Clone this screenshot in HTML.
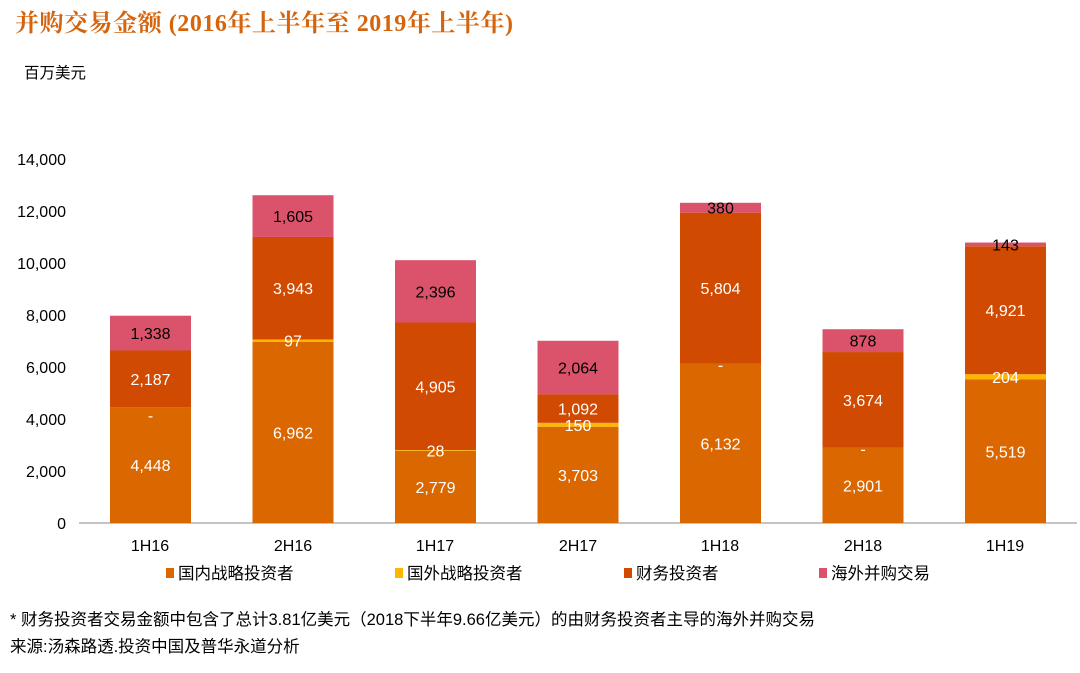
<!DOCTYPE html>
<html><head><meta charset="utf-8"><style>
body{margin:0;background:#fff;}
text{font-family:"Liberation Sans","Noto Sans CJK SC",sans-serif;}
</style></head><body>
<svg width="1080" height="668" xmlns="http://www.w3.org/2000/svg">
<text x="15" y="31" font-size="24" font-weight="bold" fill="#D5640C" textLength="498" style="font-family:'Liberation Serif','Noto Serif CJK SC',serif">并购交易金额 (2016年上半年至 2019年上半年)</text>
<text x="24" y="78" font-size="15.5" fill="#000">百万美元</text>
<g font-size="16" fill="#000" text-anchor="end">
<text x="66" y="529">0</text><text x="66" y="477">2,000</text><text x="66" y="425">4,000</text><text x="66" y="373">6,000</text><text x="66" y="321">8,000</text><text x="66" y="269">10,000</text><text x="66" y="217">12,000</text><text x="66" y="165">14,000</text>
</g>
<line x1="79" y1="523" x2="1077" y2="523" stroke="#888" stroke-width="1"/>
<g>
<rect x="110" y="407.35" width="81" height="115.65" fill="#DA6700"/>
<rect x="110" y="350.49" width="81" height="56.86" fill="#D04A02"/>
<rect x="110" y="315.70" width="81" height="34.79" fill="#DB536A"/>

<rect x="252.5" y="341.99" width="81" height="181.01" fill="#DA6700"/>
<rect x="252.5" y="339.47" width="81" height="2.52" fill="#FFB600"/>
<rect x="252.5" y="236.95" width="81" height="102.52" fill="#D04A02"/>
<rect x="252.5" y="195.22" width="81" height="41.73" fill="#DB536A"/>

<rect x="395" y="450.75" width="81" height="72.25" fill="#DA6700"/>
<rect x="395" y="450.02" width="81" height="0.73" fill="#FFB600"/>
<rect x="395" y="322.49" width="81" height="127.53" fill="#D04A02"/>
<rect x="395" y="260.19" width="81" height="62.30" fill="#DB536A"/>

<rect x="537.5" y="426.72" width="81" height="96.28" fill="#DA6700"/>
<rect x="537.5" y="422.82" width="81" height="3.9" fill="#FFB600"/>
<rect x="537.5" y="394.43" width="81" height="28.39" fill="#D04A02"/>
<rect x="537.5" y="340.77" width="81" height="53.66" fill="#DB536A"/>

<rect x="680" y="363.57" width="81" height="159.43" fill="#DA6700"/>
<rect x="680" y="212.67" width="81" height="150.90" fill="#D04A02"/>
<rect x="680" y="202.79" width="81" height="9.88" fill="#DB536A"/>

<rect x="822.5" y="447.57" width="81" height="75.43" fill="#DA6700"/>
<rect x="822.5" y="352.05" width="81" height="95.52" fill="#D04A02"/>
<rect x="822.5" y="329.22" width="81" height="22.83" fill="#DB536A"/>

<rect x="965" y="379.51" width="81" height="143.49" fill="#DA6700"/>
<rect x="965" y="374.21" width="81" height="5.30" fill="#FFB600"/>
<rect x="965" y="246.26" width="81" height="127.95" fill="#D04A02"/>
<rect x="965" y="242.54" width="81" height="3.72" fill="#DB536A"/>
</g>
<g font-size="16" text-anchor="middle" fill="#fff">
<text x="150.5" y="471">4,448</text><text x="150.5" y="421">-</text><text x="150.5" y="385">2,187</text>
<text x="293" y="438.5">6,962</text><text x="293" y="346.7">97</text><text x="293" y="294.2">3,943</text>
<text x="435.5" y="493">2,779</text><text x="435.5" y="456.4">28</text><text x="435.5" y="392.3">4,905</text>
<text x="578" y="480.9">3,703</text><text x="578" y="430.8">150</text><text x="578" y="414.6">1,092</text>
<text x="720.5" y="449.3">6,132</text><text x="720.5" y="370.6">-</text><text x="720.5" y="294.1">5,804</text>
<text x="863" y="491.3">2,901</text><text x="863" y="454.6">-</text><text x="863" y="405.8">3,674</text>
<text x="1005.5" y="457.3">5,519</text><text x="1005.5" y="382.9">204</text><text x="1005.5" y="316.2">4,921</text>
</g>
<g font-size="16" text-anchor="middle" fill="#000">
<text x="150.5" y="339">1,338</text><text x="293" y="222.1">1,605</text><text x="435.5" y="297.3">2,396</text><text x="578" y="373.6">2,064</text><text x="720.5" y="213.7">380</text><text x="863" y="346.6">878</text><text x="1005.5" y="250.4">143</text>
</g>
<g font-size="16" fill="#000" text-anchor="middle">
<text x="150" y="551">1H16</text><text x="293" y="551">2H16</text><text x="435" y="551">1H17</text><text x="578" y="551">2H17</text><text x="720" y="551">1H18</text><text x="863" y="551">2H18</text><text x="1005" y="551">1H19</text>
</g>
<g font-size="16.5" fill="#000">
<rect x="166" y="568" width="8" height="10" fill="#DA6700"/><text x="178" y="579">国内战略投资者</text>
<rect x="395" y="568" width="8" height="10" fill="#FFB600"/><text x="407" y="579">国外战略投资者</text>
<rect x="624" y="568" width="8" height="10" fill="#D04A02"/><text x="636" y="579">财务投资者</text>
<rect x="819" y="568" width="8" height="10" fill="#DB536A"/><text x="831" y="579">海外并购交易</text>
</g>
<text x="10" y="625" font-size="16.5" fill="#000">* 财务投资者交易金额中包含了总计3.81亿美元（2018下半年9.66亿美元）的由财务投资者主导的海外并购交易</text>
<text x="10" y="652" font-size="16.5" fill="#000">来源:汤森路透.投资中国及普华永道分析</text>
</svg>
</body></html>
